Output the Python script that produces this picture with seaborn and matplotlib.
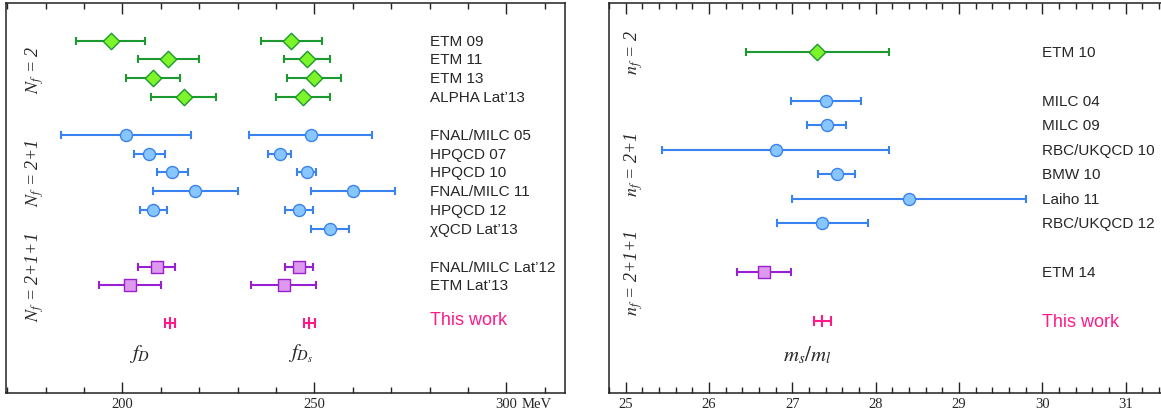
import numpy as np
import pandas as pd
import seaborn as sns
import matplotlib.pyplot as plt
from matplotlib.ticker import MultipleLocator

# left panel: f_D and f_Ds (MeV)
fd_names = ["ETM 09", "ETM 11", "ETM 13", "ALPHA Lat’13",
            "FNAL/MILC 05", "HPQCD 07", "HPQCD 10", "FNAL/MILC 11", "HPQCD 12", "χQCD Lat’13",
            "FNAL/MILC Lat’12", "ETM Lat’13"]
fd_group = ["nf2"] * 4 + ["nf21"] * 6 + ["nf211"] * 2
fD = [197, 212, 208, 216, 201, 207, 213, 219, 208, np.nan, 209, 202]
fD_err = [9, 8, 7, 8.5, 17, 4, 4, 11, 3.5, np.nan, 4.8, 8.1]
fDs = [244, 248, 250, 247, 249, 241, 248, 260, 246, 254, 246, 242]
fDs_err = [8, 6, 7, 7, 16, 3, 2.5, 11, 3.6, 5, 3.6, 8.4]
this_fD, this_fD_err = 212.4, 1.3
this_fDs, this_fDs_err = 248.7, 1.4

# right panel: m_s/m_l
ms_names = ["ETM 10", "MILC 04", "MILC 09", "RBC/UKQCD 10", "BMW 10", "Laiho 11",
            "RBC/UKQCD 12", "ETM 14"]
ms_group = ["nf2"] + ["nf21"] * 6 + ["nf211"]
ms_ratio = [27.3, 27.4, 27.41, 26.8, 27.53, 28.4, 27.36, 26.66]
ms_err = [0.86, 0.42, 0.23, 1.36, 0.22, 1.4, 0.55, 0.32]
this_ms, this_ms_lo, this_ms_hi = 27.35, 0.09, 0.11

styles = {
    "nf2": dict(line="#1c9a30", face="#7df52a", marker="D", s=70),
    "nf21": dict(line="#3a82f0", face="#88c6ff", marker="o", s=75),
    "nf211": dict(line="#9a1fd0", face="#dd99ee", marker="s", s=70),
}
pink = "#ff1a88"


def add_rows(group):
    # one blank row between flavour groups
    rows, r, prev = [], 0, group[0]
    for g in group:
        if g != prev:
            r += 1
            prev = g
        rows.append(r)
        r += 1
    return rows


sns.set_style("ticks")
plt.rcParams["font.family"] = ["Liberation Serif", "DejaVu Serif"]
plt.rcParams["mathtext.fontset"] = "stix"
plt.rcParams["axes.linewidth"] = 1.1
plt.rcParams["axes.edgecolor"] = "#222222"

fig = plt.figure(figsize=(11.61, 4.14), dpi=100)
ax1 = fig.add_axes([6 / 1161, 20 / 414, 558.7 / 1161, 390 / 414])
ax2 = fig.add_axes([609 / 1161, 20 / 414, 566.7 / 1161, 390 / 414])

df_l = pd.DataFrame({"name": fd_names, "group": fd_group, "fD": fD, "fD_err": fD_err,
                     "fDs": fDs, "fDs_err": fDs_err})
df_l["row"] = add_rows(fd_group)
df_r = pd.DataFrame({"name": ms_names, "group": ms_group, "ms": ms_ratio, "err": ms_err})
df_r["row"] = add_rows(ms_group)


def draw(ax, df, col, ecol):
    for g, sub in df.groupby("group"):
        st = styles[g]
        sub = sub.dropna(subset=[col])
        ax.errorbar(sub[col], sub["row"], xerr=sub[ecol], fmt="none", ecolor=st["line"],
                    elinewidth=1.5, capsize=3, capthick=1.5, zorder=2)
        sns.scatterplot(data=sub, x=col, y="row", ax=ax, marker=st["marker"], s=st["s"],
                        color=st["face"], edgecolor=st["line"], linewidth=1.0,
                        zorder=3, legend=False)


# ---- left panel
draw(ax1, df_l, "fD", "fD_err")
draw(ax1, df_l, "fDs", "fDs_err")
row_this_l = df_l["row"].max() + 2
for v, e in [(this_fD, this_fD_err), (this_fDs, this_fDs_err)]:
    ax1.errorbar([v], [row_this_l], xerr=[e], fmt="|", color=pink, ms=8, mew=1.5,
                 elinewidth=1.5, capsize=3.5, capthick=1.5)
for _, r in df_l.iterrows():
    ax1.text(280, r["row"], r["name"], family="Liberation Sans", fontsize=11,
             va="center", ha="left")
ax1.text(280, row_this_l - 0.2, "This work", family="Liberation Sans", fontsize=13,
         color=pink, va="center", ha="left")
for y, lab in [(1.5, r"$N_f$ = 2"), (7.0, r"$N_f$ = 2+1"), (12.5, r"$N_f$ = 2+1+1")]:
    ax1.text(177.3, y, lab, rotation=90, fontsize=13, style="italic",
             ha="center", va="center")
ax1.text(204.5, 16.6, r"$f_D$", fontsize=15, ha="center", va="center")
ax1.text(246.5, 16.6, r"$f_{D_s}$", fontsize=15, ha="center", va="center")

ax1.set_xlim(169.7, 315.2)
ax1.set_ylim(18.72, -2.0)
ax1.set_xticks([200, 250, 300])
ax1.set_xticklabels(["200", "250", "300"])
ax1.xaxis.set_minor_locator(MultipleLocator(10))
ax1.annotate("MeV", xy=(304.0, 0), xycoords=("data", "axes fraction"),
             xytext=(0, -3), textcoords="offset points", ha="left", va="top",
             fontsize=10.5, annotation_clip=False)

# ---- right panel
draw(ax2, df_r, "ms", "err")
row_this_r = df_r["row"].max() + 2
ax2.errorbar([this_ms], [row_this_r], xerr=[[this_ms_lo], [this_ms_hi]], fmt="|",
             color=pink, ms=8, mew=1.5, elinewidth=1.5, capsize=3.5, capthick=1.5)
for _, r in df_r.iterrows():
    ax2.text(30.0, r["row"], r["name"], family="Liberation Sans", fontsize=11,
             va="center", ha="left")
ax2.text(30.0, row_this_r, "This work", family="Liberation Sans", fontsize=13,
         color=pink, va="center", ha="left")
for y, lab in [(0.0, r"$n_f$ = 2"), (4.55, r"$n_f$ = 2+1"), (9.0, r"$n_f$ = 2+1+1")]:
    ax2.text(25.1, y, lab, rotation=90, fontsize=13, style="italic",
             ha="center", va="center")
ax2.text(27.18, 12.35, r"$m_s/m_l$", fontsize=15, ha="center", va="center")

ax2.set_xlim(24.8, 31.6)
ax2.set_ylim(13.93, -2.0)
ax2.set_xticks(range(25, 32))
ax2.xaxis.set_minor_locator(MultipleLocator(0.2))

for ax in (ax1, ax2):
    ax.set_xlabel("")
    ax.set_ylabel("")
    ax.set_yticks([])
    ax.tick_params(axis="x", which="both", direction="in", top=True, bottom=True,
                   labelsize=10.5, pad=3, color="#222222")
    ax.tick_params(axis="x", which="major", length=8, width=1.0)
    ax.tick_params(axis="x", which="minor", length=4.5, width=1.0)
    for sp in ax.spines.values():
        sp.set_visible(True)

fig.savefig("out.png", dpi=100)
